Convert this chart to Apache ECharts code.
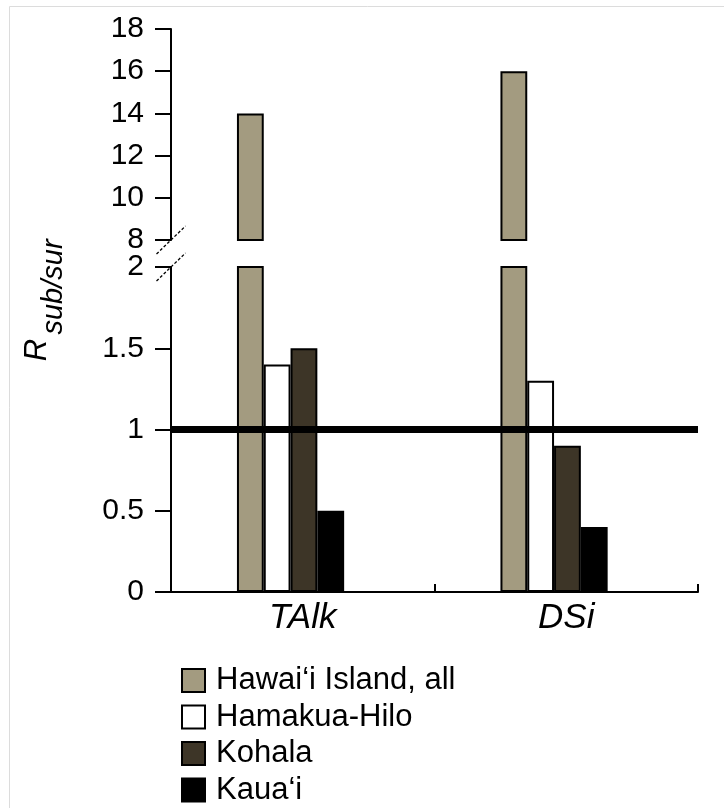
<!DOCTYPE html>
<html>
<head>
<meta charset="utf-8">
<script src="https://cdn.jsdelivr.net/npm/echarts@6/dist/echarts.min.js"></script>
<style>
html,body{margin:0;padding:0;background:#fff;}
#chart{width:724px;height:808px;}
</style>
</head>
<body>
<div id="chart"></div>
<script>
// ---- data ----
const categories = ['TAlk', 'DSi'];
const seriesNames = ['Hawai\u2018i Island, all', 'Hamakua-Hilo', 'Kohala', 'Kaua\u2018i'];
const hawaiiAll = [14, 16];
const hamakuaHilo = [1.4, 1.3];
const kohala = [1.5, 0.9];
const kauai = [0.5, 0.4];
const referenceLevel = 1;
const upperRange = [8, 18];
const lowerRange = [0, 2];

// ---- style ----
const FONT = 'Liberation Sans, Arial, sans-serif';
const colors = ['#A39B80', '#FFFFFF', '#3D3527', '#000000'];
const GRID_LEFT = 171, GRID_RIGHT = 26;
const BAR_W = 26.8, SPACER_W = 24.4;

const values = [hawaiiAll, hamakuaHilo, kohala, kauai];

function barSeries(gridIdx) {
  const out = values.map((d, i) => ({
    name: seriesNames[i],
    type: 'bar',
    xAxisIndex: gridIdx,
    yAxisIndex: gridIdx,
    data: d,
    barWidth: BAR_W,
    barGap: '0%',
    clip: true,
    itemStyle: { color: colors[i], borderColor: '#000', borderWidth: 2 },
    emphasis: { disabled: true },
    silent: true
  }));
  // empty spacer column so the group sits left of the category centre
  out.push({
    name: 'spacer',
    type: 'bar',
    xAxisIndex: gridIdx,
    yAxisIndex: gridIdx,
    data: categories.map(() => null),
    barWidth: SPACER_W,
    barGap: '0%',
    silent: true
  });
  return out;
}

const series = barSeries(0).concat(barSeries(1));
// reference line at 1 on the lower panel
series[5].markLine = {
  silent: true,
  symbol: 'none',
  label: { show: false },
  lineStyle: { color: '#000', width: 7, type: 'solid' },
  data: [{ yAxis: referenceLevel }]
};

const yLabel = { color: '#000', fontFamily: FONT, fontSize: 30, margin: 27 };
const yLine = { show: true, lineStyle: { color: '#000', width: 2 } };
const yTick = { show: true, inside: false, length: 16, lineStyle: { color: '#000', width: 2 } };

const option = {
  animation: false,
  backgroundColor: '#fff',
  grid: [
    { left: GRID_LEFT, right: GRID_RIGHT, top: 29, height: 211 },
    { left: GRID_LEFT, right: GRID_RIGHT, top: 267, bottom: 216 }
  ],
  xAxis: [
    { type: 'category', gridIndex: 0, data: categories, show: false },
    {
      type: 'category', gridIndex: 1, data: categories,
      axisLine: { show: true, lineStyle: { color: '#000', width: 2 } },
      axisTick: { show: true, inside: true, length: 8, lineStyle: { color: '#000', width: 2 } },
      axisLabel: { color: '#000', fontFamily: FONT, fontSize: 35, fontStyle: 'italic', margin: 9 }
    }
  ],
  yAxis: [
    { type: 'value', gridIndex: 0, min: upperRange[0], max: upperRange[1], interval: 2,
      axisLine: yLine, axisTick: yTick, axisLabel: yLabel, splitLine: { show: false } },
    { type: 'value', gridIndex: 1, min: lowerRange[0], max: lowerRange[1], interval: 0.5,
      axisLine: yLine, axisTick: yTick, axisLabel: yLabel, splitLine: { show: false } }
  ],
  legend: {
    data: seriesNames,
    orient: 'vertical',
    left: 181,
    top: 665,
    height: 200,
    padding: 0,
    itemWidth: 23,
    itemHeight: 23,
    itemGap: 5.5,
    icon: 'rect',
    selectedMode: false,
    textStyle: { color: '#000', fontFamily: FONT, fontSize: 31, padding: [0, 0, 0, 6] }
  },
  series: series
};

const chart = echarts.init(document.getElementById('chart'), null, { renderer: 'canvas' });
chart.setOption(option);

// axis-break marks and axis title, positioned from the axes themselves
const yTop = chart.convertToPixel({ yAxisIndex: 0 }, upperRange[0]);
const yBot = chart.convertToPixel({ yAxisIndex: 1 }, lowerRange[1]);
const brk = (y) => ({
  type: 'line', z: 100,
  shape: { x1: GRID_LEFT - 14.5, y1: y + 14, x2: GRID_LEFT + 14.5, y2: y - 14 },
  style: { stroke: '#000', lineWidth: 1.3, lineDash: [3, 2] }
});
chart.setOption({
  graphic: [
    { type: 'rect', z: -10, shape: { x: 9.5, y: 6.5, width: 800, height: 900 },
      style: { fill: null, stroke: '#dcdcdc', lineWidth: 1 } },
    brk(yTop),
    brk(yBot),
    { type: 'text', x: 37, y: 350, rotation: Math.PI / 2,
      style: { text: 'R', fontFamily: FONT, fontSize: 31, fontStyle: 'italic', fill: '#000',
               align: 'center', verticalAlign: 'middle' } },
    { type: 'text', x: 54, y: 287, rotation: Math.PI / 2,
      style: { text: 'sub/sur', fontFamily: FONT, fontSize: 29, fontStyle: 'italic', fill: '#000',
               align: 'center', verticalAlign: 'middle' } }
  ]
});
</script>
</body>
</html>
